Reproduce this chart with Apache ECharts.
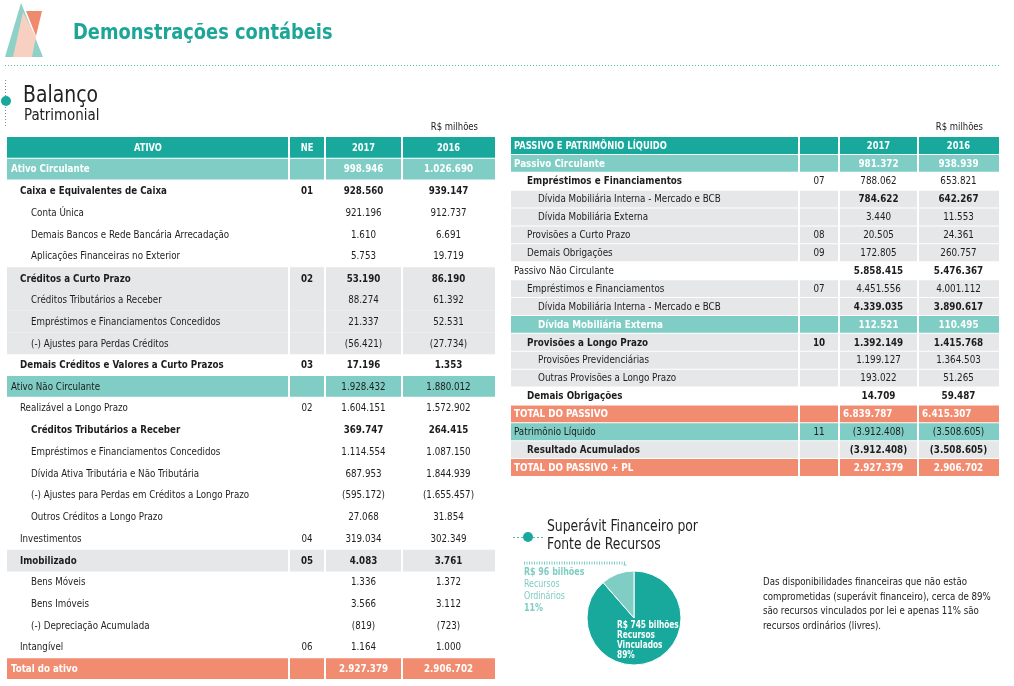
<!DOCTYPE html>
<html><head><meta charset="utf-8">
<script src="https://cdn.jsdelivr.net/npm/echarts@6/dist/echarts.min.js"></script>
<style>html,body{margin:0;padding:0;background:#fff}#c{width:1014px;height:686px}</style>
</head><body><div id="c"></div>
<script>
// ---------- DATA ----------
const leftHeader = ['ATIVO', 'NE', '2017', '2016'];
const leftLabels = ['Ativo Circulante', 'Caixa e Equivalentes de Caixa', 'Conta Única', 'Demais Bancos e Rede Bancária Arrecadação', 'Aplicações Financeiras no Exterior', 'Créditos a Curto Prazo', 'Créditos Tributários a Receber', 'Empréstimos e Financiamentos Concedidos', '(-) Ajustes para Perdas Créditos', 'Demais Créditos e Valores a Curto Prazos', 'Ativo Não Circulante', 'Realizável a Longo Prazo', 'Créditos Tributários a Receber', 'Empréstimos e Financiamentos Concedidos', 'Dívida Ativa Tributária e Não Tributária', '(-) Ajustes para Perdas em Créditos a Longo Prazo', 'Outros Créditos a Longo Prazo', 'Investimentos', 'Imobilizado', 'Bens Móveis', 'Bens Imóveis', '(-) Depreciação Acumulada', 'Intangível', 'Total do ativo'];
const leftNE = ['', '01', '', '', '', '02', '', '', '', '03', '', '02', '', '', '', '', '', '04', '05', '', '', '', '06', ''];
const left2017 = [998946, 928560, 921196, 1610, 5753, 53190, 88274, 21337, -56421, 17196, 1928432, 1604151, 369747, 1114554, 687953, -595172, 27068, 319034, 4083, 1336, 3566, -819, 1164, 2927379];
const left2016 = [1026690, 939147, 912737, 6691, 19719, 86190, 61392, 52531, -27734, 1353, 1880012, 1572902, 264415, 1087150, 1844939, -1655457, 31854, 302349, 3761, 1372, 3112, -723, 1000, 2906702];
const leftLevel = [0, 1, 2, 2, 2, 1, 2, 2, 2, 1, 0, 1, 2, 2, 2, 2, 2, 1, 1, 2, 2, 2, 1, 0];
const leftKind = ['secW', 'b', 'n', 'n', 'n', 'gb', 'g', 'g', 'g', 'b', 'secD', 'n', 'b', 'n', 'n', 'n', 'n', 'n', 'gb', 'n', 'n', 'n', 'n', 'tot'];

const rightHeader = ['PASSIVO E PATRIMÔNIO LÍQUIDO', '', '2017', '2016'];
const rightLabels = ['Passivo Circulante', 'Empréstimos e Financiamentos', 'Dívida Mobiliária Interna - Mercado e BCB', 'Dívida Mobiliária Externa', 'Provisões a Curto Prazo', 'Demais Obrigações', 'Passivo Não Circulante', 'Empréstimos e Financiamentos', 'Dívida Mobiliária Interna - Mercado e BCB', 'Dívida Mobiliária Externa', 'Provisões a Longo Prazo', 'Provisões Previdenciárias', 'Outras Provisões a Longo Prazo', 'Demais Obrigações', 'TOTAL DO PASSIVO', 'Patrimônio Líquido', 'Resultado Acumulados', 'TOTAL DO PASSIVO + PL'];
const rightNE = ['', '07', '', '', '08', '09', '', '07', '', '', '10', '', '', '', '', '11', '', ''];
const right2017 = [981372, 788062, 784622, 3440, 20505, 172805, 5858415, 4451556, 4339035, 112521, 1392149, 1199127, 193022, 14709, 6839787, -3912408, -3912408, 2927379];
const right2016 = [938939, 653821, 642267, 11553, 24361, 260757, 5476367, 4001112, 3890617, 110495, 1415768, 1364503, 51265, 59487, 6415307, -3508605, -3508605, 2906702];
const rightLevel = [0, 1, 2, 2, 1, 1, 0, 1, 2, 2, 1, 2, 2, 1, 0, 0, 1, 0];
const rightKind = ['secW', 'bl', 'gv', 'g', 'g', 'g', 'nv', 'g', 'gv', 'secW', 'gb', 'g', 'g', 'b', 'totL', 'secD', 'gb', 'tot'];

const pieNames = ['Recursos Vinculados', 'Recursos Ordinários'];
const pieValues = [745, 96];

const unitLabel = 'R$ milhões';
const pageTitle = 'Demonstrações contábeis';
const sectionTitle = ['Balanço', 'Patrimonial'];
const pieTitle = ['Superávit Financeiro por', 'Fonte de Recursos'];
const noteText = ['Das disponibilidades financeiras que não estão', 'comprometidas (superávit financeiro), cerca de 89%', 'são recursos vinculados por lei e apenas 11% são', 'recursos ordinários (livres).'];

// ---------- STYLE ----------
const FONT = "'DejaVu Sans Condensed','Liberation Sans Narrow','Roboto',sans-serif";
const TEAL = '#18A99C', TEAL_L = '#7FCDC4', ORANGE = '#F18C70', GREY = '#E6E7E8', DARK = '#1d1d1d';
const KIND = {
  headC: {bg: TEAL, color: '#fff', wL: 'bold', wV: 'bold', center: true},
  head: {bg: TEAL, color: '#fff', wL: 'bold', wV: 'bold'},
  secW: {bg: TEAL_L, color: '#fff', wL: 'bold', wV: 'bold'},
  secD: {bg: TEAL_L, color: DARK, wL: 'normal', wV: 'normal'},
  b: {bg: null, color: DARK, wL: 'bold', wV: 'bold'},
  n: {bg: null, color: DARK, wL: 'normal', wV: 'normal'},
  bl: {bg: null, color: DARK, wL: 'bold', wV: 'normal'},
  nv: {bg: null, color: DARK, wL: 'normal', wV: 'bold'},
  g: {bg: GREY, color: DARK, wL: 'normal', wV: 'normal'},
  gb: {bg: GREY, color: DARK, wL: 'bold', wV: 'bold'},
  gv: {bg: GREY, color: DARK, wL: 'normal', wV: 'bold'},
  tot: {bg: ORANGE, color: '#fff', wL: 'bold', wV: 'bold'},
  totL: {bg: ORANGE, color: '#fff', wL: 'bold', wV: 'bold', leftVals: true}
};

function fmt(v) {
  if (v === null || v === undefined || v === '') return '';
  if (typeof v === 'string') return v;
  const s = Math.abs(v).toString().replace(/\B(?=(\d{3})+(?!\d))/g, '.');
  return v < 0 ? '(' + s + ')' : s;
}

function buildRows(header, headKind, labels, ne, v17, v16, level, kind) {
  const rows = [{cells: header, level: 0, kind: headKind}];
  labels.forEach((l, i) => rows.push({cells: [l, ne[i], fmt(v17[i]), fmt(v16[i])], level: level[i], kind: kind[i]}));
  return rows;
}

const leftRows = buildRows(leftHeader, 'headC', leftLabels, leftNE, left2017, left2016, leftLevel, leftKind);
const rightRows = buildRows(rightHeader, 'head', rightLabels, rightNE, right2017, right2016, rightLevel, rightKind);

function tableSeries(rows, idx, edges, indents, fs, hfs, sx, gapFn) {
  const data = [];
  rows.forEach((r, ri) => { for (let c = 0; c < 4; c++) data.push([c, ri]); });
  return {
    type: 'custom', coordinateSystem: 'cartesian2d', xAxisIndex: idx, yAxisIndex: idx,
    silent: true, animation: false, data: data, encode: {x: 0, y: 1},
    renderItem: function (params, api) {
      const c = api.value(0), r = api.value(1);
      const row = rows[r];
      const st = KIND[row.kind];
      const p = api.coord([edges[c], r]);
      const p2 = api.coord([edges[c + 1], r]);
      const bh = api.size([0, 1])[1];
      const gap = gapFn(row.kind);
      const top = p[1] - bh / 2;
      const ch = [];
      if (st.bg) {
        const xl = p[0] + (c > 0 ? 1 : 0);
        const xr = p2[0] - (c < 3 ? 1 : 0);
        ch.push({type: 'rect', shape: {x: xl, y: top, width: xr - xl, height: bh - gap}, style: {fill: st.bg}});
      }
      const txt = row.cells[c];
      if (txt) {
        let x, align = 'center';
        if (c === 0 && !st.center) { x = p[0] + indents[row.level]; align = 'left'; }
        else if (c > 1 && st.leftVals) { x = p[0] + 4; align = 'left'; }
        else x = (p[0] + p2[0]) / 2;
        const isHead = row.kind === 'head' || row.kind === 'headC';
        ch.push({type: 'text', x: x, y: top + (bh - gap) / 2 + 0.5, scaleX: sx, style: {
          text: txt, x: 0, y: 0, align: align, verticalAlign: 'middle',
          fill: st.color, fontFamily: FONT, fontSize: isHead ? hfs : fs,
          fontWeight: c === 0 ? st.wL : st.wV
        }});
      }
      return {type: 'group', children: ch};
    }
  };
}

function gtext(t, x, y, size, opt) {
  opt = opt || {};
  return {type: 'text', x: x, y: y, z: 100, scaleX: opt.sx || 1, style: {
    text: t, x: 0, y: 0, align: opt.align || 'left', verticalAlign: opt.va || 'middle',
    fill: opt.fill || '#222', fontFamily: FONT, fontSize: size, fontWeight: opt.fw || 'normal',
    lineHeight: opt.lh, rich: opt.rich
  }};
}

// pie labels built from the pie data
const pieSum = pieValues.reduce((a, b) => a + b, 0);
function pieLabel(i) {
  const w = pieNames[i].split(' ');
  return '{b|R$ ' + pieValues[i] + ' bilhões}\n{n|' + w[0] + '}\n{n|' + w[1] + '}\n{b|' + Math.round(pieValues[i] / pieSum * 100) + '%}';
}

const chart = echarts.init(document.getElementById('c'), null, {renderer: 'canvas'});

const option = {
  backgroundColor: '#fff',
  animation: false,
  grid: [
    {left: 7, top: 137, width: 488, height: 543},
    {left: 511, top: 137, width: 488, height: 340}
  ],
  xAxis: [
    {type: 'value', gridIndex: 0, min: 0, max: 488, show: false},
    {type: 'value', gridIndex: 1, min: 0, max: 488, show: false}
  ],
  yAxis: [
    {type: 'category', gridIndex: 0, inverse: true, data: leftRows.map((_, i) => i), show: false},
    {type: 'category', gridIndex: 1, inverse: true, data: rightRows.map((_, i) => i), show: false}
  ],
  series: [
    tableSeries(leftRows, 0, [0, 282, 318, 395, 488], [4, 13, 24], 11, 10.5, 0.88, k => (k === 'g' || k === 'gb') ? 0 : 1),
    tableSeries(rightRows, 1, [0, 288, 328, 407, 488], [3, 16, 27], 10.5, 10, 0.93, k => 1),
    {
      type: 'pie', center: [634, 618], radius: 47, startAngle: 90, clockwise: true,
      silent: true, animation: false, z: 2,
      itemStyle: {borderColor: '#fff', borderWidth: 1},
      data: pieNames.map((n, i) => ({name: n, value: pieValues[i], itemStyle: {color: i === 0 ? TEAL : TEAL_L}})),
      label: {show: false},
      labelLine: {show: false}
    }
  ],
  graphic: [
    // logo
    {type: 'polygon', shape: {points: [[5, 57], [21, 3], [43, 57]]}, style: {fill: '#8DD1C7'}},
    {type: 'polygon', shape: {points: [[13, 57], [23, 12], [36, 37], [32, 57]]}, style: {fill: '#F7D0C2'}},
    {type: 'polygon', shape: {points: [[26, 11], [42, 11], [36, 36]]}, style: {fill: '#F08A6E'}},
    gtext(pageTitle, 73, 33, 22, {fill: '#1DA697', fw: 'bold', sx: 0.9}),
    {type: 'line', shape: {x1: 5, y1: 65.5, x2: 999, y2: 65.5}, style: {stroke: '#4FB9AD', lineWidth: 1, lineDash: [1, 2]}},
    {type: 'line', shape: {x1: 5.5, y1: 80, x2: 5.5, y2: 126}, style: {stroke: '#888', lineWidth: 1, lineDash: [1, 2]}},
    {type: 'circle', shape: {cx: 6, cy: 101, r: 5}, style: {fill: TEAL}},
    gtext(sectionTitle[0], 23, 96, 23, {sx: 0.91}),
    gtext(sectionTitle[1], 24, 116, 16, {sx: 0.93}),
    gtext(unitLabel, 478, 127, 10.5, {align: 'right', sx: 0.9}),
    gtext(unitLabel, 983, 127, 10.5, {align: 'right', sx: 0.9}),
    // pie title
    {type: 'line', shape: {x1: 513, y1: 537.5, x2: 543, y2: 537.5}, style: {stroke: '#4FB9AD', lineWidth: 1, lineDash: [2, 2]}},
    {type: 'circle', shape: {cx: 528, cy: 537, r: 5}, style: {fill: TEAL}},
    gtext(pieTitle[0], 547, 527, 16, {sx: 0.86}),
    gtext(pieTitle[1], 547, 545, 16, {sx: 0.86}),
    {type: 'polyline', shape: {points: [[524, 563], [625, 563], [625, 567]]}, style: {stroke: TEAL_L, lineWidth: 3, lineDash: [1, 1.5], fill: null}},
    gtext(pieLabel(1), 524, 566, 11, {va: 'top', sx: 0.8, rich: {
      b: {fill: TEAL_L, fontWeight: 'bold', fontSize: 11, fontFamily: FONT, lineHeight: 12},
      n: {fill: TEAL_L, fontWeight: 'normal', fontSize: 11, fontFamily: FONT, lineHeight: 12}}}),
    gtext(pieLabel(0), 617, 620, 11, {va: 'top', sx: 0.75, rich: {
      b: {fill: '#fff', fontWeight: 'bold', fontSize: 11, fontFamily: FONT, lineHeight: 10},
      n: {fill: '#fff', fontWeight: 'bold', fontSize: 11, fontFamily: FONT, lineHeight: 10}}}),
    gtext(noteText.join('\n'), 763, 575, 11, {va: 'top', lh: 14.5, sx: 0.875})
  ]
};
chart.setOption(option);
</script></body></html>
